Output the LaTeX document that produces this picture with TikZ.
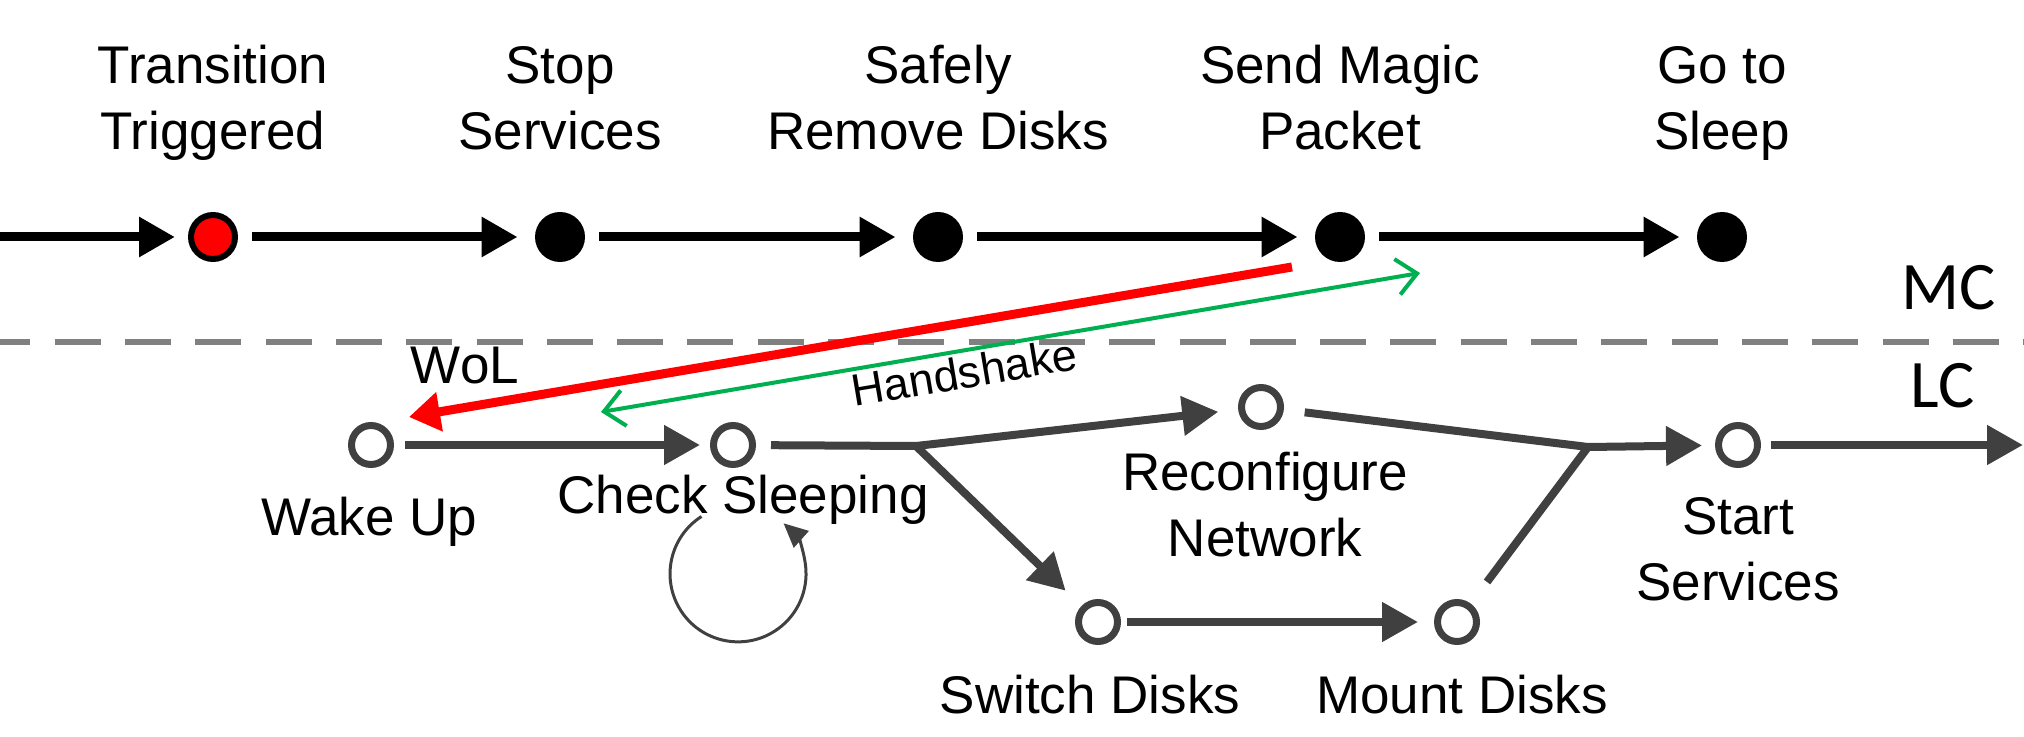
\documentclass[tikz,border=0pt]{standalone}
\usepackage{fontspec}
\setmainfont{Liberation Sans}
\newfontfamily\sidefont{Carlito}
\usetikzlibrary{arrows.meta,calc}
\definecolor{lcgray}{HTML}{404040}
\definecolor{dashgray}{HTML}{808080}
\definecolor{hsgreen}{HTML}{00B050}
\definecolor{wolred}{HTML}{FF0000}
\begin{document}
\begin{tikzpicture}[x=0.5pt,y=-0.5pt,
  mcdone/.style={circle,fill=black,minimum size=25pt,inner sep=0pt},
  mcstart/.style={circle,draw=black,line width=3pt,fill=red,minimum size=22pt,inner sep=0pt},
  lcstate/.style={circle,draw=lcgray,line width=3.5pt,fill=white,minimum size=19.5pt,inner sep=0pt},
  lbl/.style={font=\fontsize{26.5}{33}\selectfont,align=center,anchor=base,inner sep=0pt},
  side/.style={font=\sidefont\fontsize{34}{40}\selectfont,anchor=base,inner sep=0pt},
  mcflow/.style={draw=black,line width=4.5pt,-{Triangle[length=18pt,width=19pt]},shorten <=7pt,shorten >=8.5pt},
  lcflow/.style={draw=lcgray,line width=4pt,-{Triangle[length=18pt,width=19pt]}},
  lcline/.style={draw=lcgray,line width=4pt},
  selfloop/.style={draw=lcgray,line width=1.5pt,-{Triangle[length=12pt,width=11pt]}},
  wol/.style={draw=wolred,line width=4.5pt,-{Triangle[length=15.5pt,width=19pt]}},
  shake/.style={draw=hsgreen,line width=2pt,{Straight Barb[length=10pt,width=18pt]}-{Straight Barb[length=10pt,width=18pt]}}
]
\useasboundingbox (0,0) rectangle (2024,737);

% boundary between the two machines
\coordinate (divL) at (0,342);
\coordinate (divR) at (2024,342);
\draw[dashgray,line width=3pt,dash pattern=on 23pt off 12.15pt,dash phase=7.8pt] (divL) -- (divR);
\node[side] (mc) at (1949,310) {MC};
\node[side] (lc) at (1943,408) {LC};

% main-controller sequence
\coordinate (mcin) at (0,237);
\node[mcstart] (t1) at (213,237) {};
\node[mcdone]  (t2) at (560,237) {};
\node[mcdone]  (t3) at (938,237) {};
\node[mcdone]  (t4) at (1340,237) {};
\node[mcdone]  (t5) at (1722,237) {};

% two-line labels sit on the baseline of their last line
\node[lbl] (t1l) at ($(t1)+(0,-87)$) {Transition\\Triggered};
\node[lbl] (t2l) at ($(t2)+(0,-87)$) {Stop\\Services};
\node[lbl] (t3l) at ($(t3)+(0,-87)$) {Safely\\Remove Disks};
\node[lbl] (t4l) at ($(t4)+(0,-87)$) {Send Magic\\Packet};
\node[lbl] (t5l) at ($(t5)+(0,-87)$) {Go to\\Sleep};

\draw[mcflow,shorten <=0pt,shorten >=6.5pt] (mcin) -- (t1);
\draw[mcflow] (t1) -- (t2);
\draw[mcflow] (t2) -- (t3);
\draw[mcflow] (t3) -- (t4);
\draw[mcflow] (t4) -- (t5);

% local-controller sequence
\node[lcstate] (wu) at (371,445) {};
\node[lcstate] (cs) at (733,445) {};
\node[lcstate] (rn) at (1261,407) {};
\node[lcstate] (sd) at (1098,622) {};
\node[lcstate] (md) at (1457,622) {};
\node[lcstate] (ss) at (1738,445) {};
\coordinate (j1) at (916,446);
\coordinate (j2) at (1588,447);
\coordinate (lcout) at (2023,445);

\node[lbl] (wul) at ($(wu)+(-2,90)$) {Wake Up};
\node[lbl] (csl) at ($(cs)+(10,68)$) {Check Sleeping};
\node[lbl] (rnl) at ($(rn)+(4,149)$) {Reconfigure\\Network};
\node[lbl] (sdl) at ($(sd)+(-8,91)$) {Switch Disks};
\node[lbl] (mdl) at ($(md)+(5,91)$) {Mount Disks};
\node[lbl] (ssl) at ($(ss)+(0,155)$) {Start\\Services};

\draw[lcflow,shorten <=5.5pt,shorten >=5pt] (wu) -- (cs);
\draw[lcflow,shorten <=7.5pt,shorten >=10pt] (cs) -- (j1) -- (rn);
\draw[lcflow,shorten >=11pt] (j1) -- (sd);
\draw[lcflow,shorten <=3pt,shorten >=8pt] (sd) -- (md);
\draw[lcline,shorten <=13.5pt] (md) -- (j2);
\draw[lcflow,shorten <=10.5pt,shorten >=6.5pt] (rn) -- (j2) -- (ss);
\draw[lcflow,shorten <=5pt] (ss) -- (lcout);

% retry loop on the sleep check
\coordinate (loopin) at ($(cs)+(-31.5,71.5)$);
\draw[selfloop] (loopin) arc[start angle=-122.5,end angle=-408,x radius=68,y radius=68];

% wake-on-LAN and handshake messages
\coordinate (wolS) at (1292,267);
\coordinate (wolE) at (409,417);
\draw[wol] (wolS) -- (wolE);
\node[lbl] (woll) at (465,384) {WoL};

\coordinate (hsA) at (601,412);
\coordinate (hsB) at (1420,273);
\draw[shake] (hsA) -- (hsB);
\node[lbl,font=\fontsize{22.5}{27}\selectfont,rotate=9.6] (hsl) at (967,388) {Handshake};
\end{tikzpicture}
\end{document}
